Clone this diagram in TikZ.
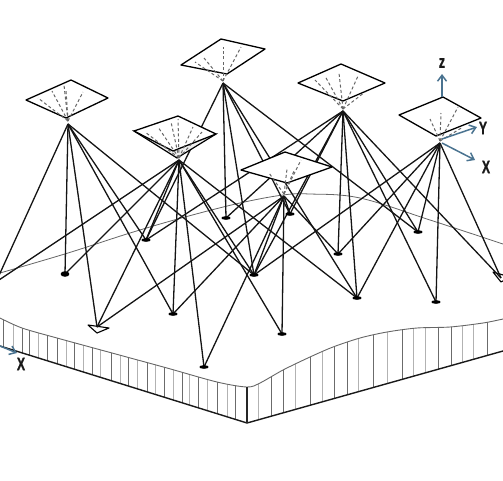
\documentclass[tikz,border=0pt]{standalone}
\usepackage{fontspec}
\setmainfont{Liberation Sans}
\newfontfamily\labfont[FakeBold=1.2]{Liberation Sans Bold}
\usetikzlibrary{arrows.meta}
\definecolor{axisblue}{HTML}{4A7390}
\tikzset{
 ray/.style={line width=1.3pt,black!92},
 frame/.style={line width=1.3pt,black,fill=white,line join=round},
 sight/.style={line width=1pt,black!60,dash pattern=on 3pt off 2.4pt},
 mark flat/.style={fill=black},
 axisline/.style={line width=1.5pt,axisblue,-{Straight Barb[length=6pt,width=9pt,line width=1.5pt]}},
 axislabel/.style={inner sep=0pt,font=\labfont\fontsize{18}{18}\selectfont,xscale=0.68,black!90},
 horizon/.style={line width=0.8pt,black!60},
 plateedge/.style={line width=1.4pt,black!90},
 platetop/.style={line width=0.9pt,black!60},
 hatchd/.style={line width=0.9pt,black!58},
 hatchl/.style={line width=0.8pt,black!30}
}
\begin{document}
\begin{tikzpicture}[x=1pt,y=-1pt]
\useasboundingbox (0,0) rectangle (503,480);
\clip (0,0) rectangle (503,480);
% apexes
\coordinate (c1) at (68,124);
\coordinate (c2) at (223,83);
\coordinate (c3) at (179,160);
\coordinate (c4) at (343,111);
\coordinate (c5) at (440,143);
\coordinate (c6) at (284,196);
% ground points
\coordinate (p0) at (-4,282);
\coordinate (p1) at (65,274);
\coordinate (p2) at (97,327);
\coordinate (p3) at (173,314);
\coordinate (p4) at (204,367);
\coordinate (p5) at (146,240);
\coordinate (p6) at (226,218);
\coordinate (p7) at (254,275);
\coordinate (p8) at (282,334);
\coordinate (p9) at (290,214);
\coordinate (p10) at (338,254);
\coordinate (p11) at (357,298);
\coordinate (p12) at (418,232);
\coordinate (p13) at (436,302);
\coordinate (p14) at (501,278);
% ground curve
\draw[horizon] plot[smooth,tension=0.6] coordinates {(0,273) (68,253) (130,233) (185,217) (240,203) (283,195) (310,194) (360,198) (430,220) (503,244)};
% plate
\begin{scope}
\clip plot[smooth,tension=0.5] coordinates {(0,318) (22,328) (57,338) (112,353) (167,368) (217,382) (247,387) (260,383) (283,370) (310,357) (333,347) (360,338) (387,332) (417,328) (450,327) (483,323) (503,319)} -- (503,351) -- (247,423) -- (0,346) -- cycle;
\foreach \x in {3,22,29,47,57,74,92,111,128,147,164,182,198,217,235,271,283,310,334,347,373,402,438,451,487}
  \draw[hatchd] (\x,300) -- (\x,430);
\foreach \x in {13,38,66,83,100,120,137,155,173,189,207,227,258,295,322,358,387,413,425,462,473}
  \draw[hatchl] (\x,300) -- (\x,430);
\end{scope}
\draw[platetop] plot[smooth,tension=0.5] coordinates {(0,318) (22,328) (57,338) (112,353) (167,368) (217,382) (247,387) (260,383) (283,370) (310,357) (333,347) (360,338) (387,332) (417,328) (450,327) (483,323) (503,319)};
\draw[plateedge] (0,346) -- (247,423) -- (503,351);
\draw[line width=1.6pt,black!85] (247,387) -- (247,423);
% rays
\foreach \a/\b in {c1/p0,c1/p1,c1/p3,c1/p5,c1/p7,
  c2/p5,c2/p6,c2/p7,c2/p9,c2/p11,c2/p12,
  c3/p0,c3/p1,c3/p3,c3/p4,c3/p5,c3/p7,c3/p8,c3/p11,
  c4/p5,c4/p6,c4/p7,c4/p9,c4/p10,c4/p11,c4/p12,c4/p13,
  c5/p7,c5/p10,c5/p11,c5/p12,c5/p13,
  c6/p3,c6/p4,c6/p7,c6/p8,c6/p9,c6/p10}
  \draw[ray] (\a) -- (\b);
% ground markers
\foreach \m in {p3,p4,p5,p6,p7,p8,p9,p10,p11,p12,p13}
  \fill[mark flat] (\m) ellipse (4.6pt and 1.8pt);
\fill[mark flat] (p1) ellipse (4.4pt and 2.8pt);
\draw[frame,line width=1.1pt] (88,325) -- (109,328) -- (97,333) -- cycle;
\draw[frame,line width=1.1pt] (493,272) -- (510,277) -- (501,282) -- cycle;
\foreach \a/\b in {c1/p2,c3/p2,c6/p2,c4/p14,c5/p14}
  \draw[ray] (\a) -- (\b);
% frames
\draw[frame] (26,100) -- (71,80) -- (108,98) -- (66,118) -- cycle;
\draw[frame] (181,65) -- (221,39) -- (265,49) -- (227,74) -- cycle;
\draw[frame] (298,83) -- (341,64) -- (385,83) -- (343,101) -- cycle;
\draw[frame] (399,115) -- (443,97) -- (481,118) -- (436,136) -- cycle;
\draw[line width=1.2pt,fill=black!6] (134,131) -- (177,158) -- (216,134) -- cycle;
\draw[frame] (134,131) -- (178,116) -- (216,134) -- (173,151) -- cycle;
\draw[frame] (241,170) -- (285,152) -- (332,167) -- (287,183) -- cycle;
% sight lines
\foreach \x/\y in {38/98,52/91,64/85,66/90,83/92} \draw[sight] (68,121) -- (\x,\y);
\foreach \x/\y in {195/62,204/58,223/47,241/47} \draw[sight] (223,81) -- (\x,\y);
\foreach \x/\y in {145/132,158/127,171/122,178/119,193/127,202/132} \draw[sight] (179,158) -- (\x,\y);
\foreach \x/\y in {315/80,325/76,339/73,358/76,365/92} \draw[sight] (343,109) -- (\x,\y);
\foreach \x/\y in {430/119,441/113,458/107,463/127} \draw[sight] (440,141) -- (\x,\y);
\foreach \x/\y in {269/173,287/169,294/171,301/160} \draw[sight] (284,194) -- (\x,\y);
% axes
\coordinate (zs) at (442,97);
\coordinate (ze) at (442,74);
\coordinate (ys) at (442,139);
\coordinate (ye) at (477,127);
\coordinate (xs) at (442,143);
\coordinate (xe) at (475,160);
\coordinate (ls) at (0,346);
\coordinate (le) at (17,353);
\draw[axisline] (zs) -- (ze);
\draw[axisline] (ys) -- (ye);
\draw[axisline] (xs) -- (xe);
\draw[axisline] (ls) -- (le);
\node[axislabel] (zlabel) at (442,63) {z};
\node[axislabel] (ylabel) at (483,128) {Y};
\node[axislabel] (xlabel) at (486,167) {X};
\node[axislabel] (xlabel2) at (21,364) {X};
\end{tikzpicture}
\end{document}
